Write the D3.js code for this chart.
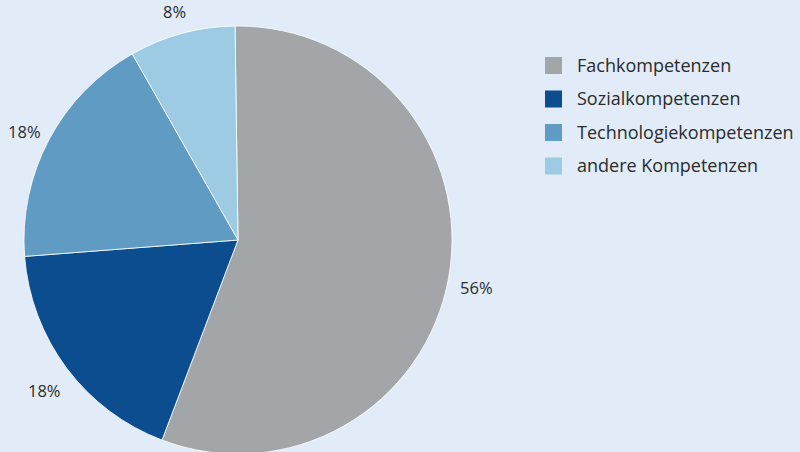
<!DOCTYPE html>
<html><head><meta charset="utf-8">
<script src="https://cdn.jsdelivr.net/npm/d3@7"></script>
<style>html,body{margin:0;padding:0;background:#e1ecf8;}svg{display:block;}</style>
</head><body>
<svg id="c" width="800" height="452"></svg>
<script>
const categories = ["Fachkompetenzen","Sozialkompetenzen","Technologiekompetenzen","andere Kompetenzen"];
const values = [56, 18, 18, 8];
const labels = ["56%","18%","18%","8%"];
const colors = ["#a3a6a8","#0b4d8f","#609bc4","#9ccbe3"];

const svg = d3.select("#c");
svg.append("rect").attr("width",800).attr("height",452).attr("fill","#e1ecf8");
const cx = 238, cy = 240, r = 214;
const off = -0.8*Math.PI/180;
const pie = d3.pie().sort(null).startAngle(off).endAngle(2*Math.PI+off);
const arcs = pie(values);
const arc = d3.arc().innerRadius(0).outerRadius(r);
const g = svg.append("g").attr("transform",`translate(${cx},${cy})`);
g.selectAll("path").data(arcs).join("path")
  .attr("d",arc).attr("fill",(d,i)=>colors[i])
  .attr("stroke","#ffffff").attr("stroke-width",0.8);
const la = d3.arc().innerRadius(242).outerRadius(242);
g.selectAll("text").data(arcs).join("text")
  .attr("transform",d=>{const c=la.centroid(d);return `translate(${c[0]},${c[1]+6})`;})
  .attr("text-anchor","middle").attr("dy","0.35em")
  .attr("font-family","Open Sans, sans-serif").attr("font-size",16.5)
  .attr("fill","#2b2b2b")
  .text((d,i)=>labels[i]);

const lg = svg.append("g").attr("transform","translate(545,57)");
const items = lg.selectAll("g").data(categories).join("g")
  .attr("transform",(d,i)=>`translate(0,${i*33.5})`);
items.append("rect").attr("width",17).attr("height",17).attr("fill",(d,i)=>colors[i]);
items.append("text").attr("x",32).attr("y",8.5).attr("dy","0.35em")
  .attr("font-family","Open Sans, sans-serif").attr("font-size",18)
  .attr("fill","#2b2b2b").text(d=>d);
</script>
</body></html>
